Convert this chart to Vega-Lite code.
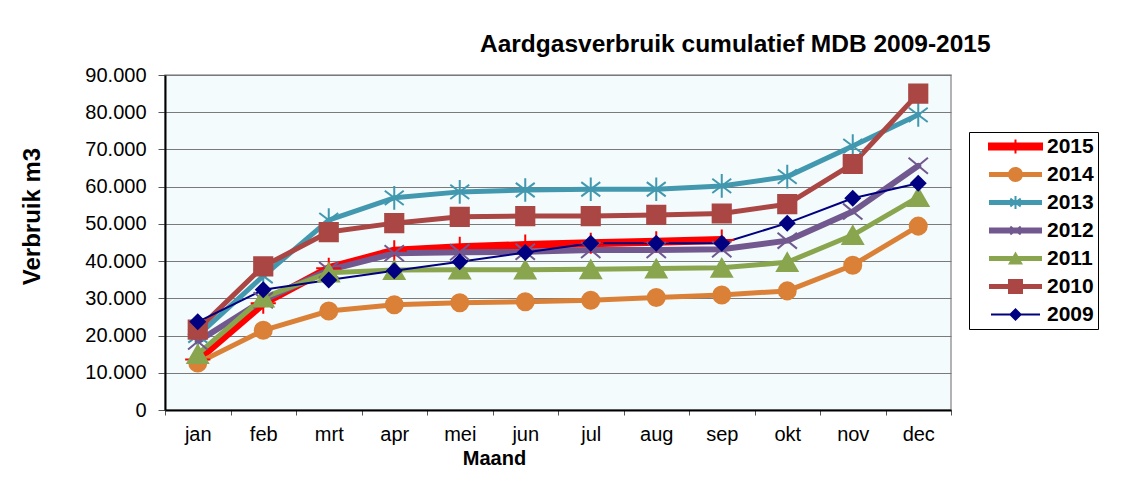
{
  "$schema": "https://vega.github.io/schema/vega-lite/v6.json",
  "autosize": "none",
  "width": 786,
  "height": 335,
  "padding": {"left": 165, "top": 75, "right": 174, "bottom": 75},
  "background": "white",
  "view": {"fill": "#F3FBFC", "stroke": "#9a9a9a", "strokeWidth": 1.5},
  "config": {
    "font": "Liberation Sans",
    "axis": {"labelFont": "Liberation Sans", "titleFont": "Liberation Sans", "labelColor": "black", "titleColor": "black"}
  },
  "title": {
    "text": "Aardgasverbruik  cumulatief MDB 2009-2015",
    "anchor": "start",
    "frame": "group",
    "dx": 315,
    "dy": 33,
    "offset": 22,
    "baseline": "alphabetic",
    "font": "Liberation Sans",
    "fontSize": 24.5,
    "fontWeight": "bold",
    "color": "black"
  },
  "data": {
    "values": [
      {"m": "jan", "year": "2015", "v": 13600}, {"m": "feb", "year": "2015", "v": 28700}, {"m": "mrt", "year": "2015", "v": 38100},
      {"m": "apr", "year": "2015", "v": 42800}, {"m": "mei", "year": "2015", "v": 43700}, {"m": "jun", "year": "2015", "v": 44300},
      {"m": "jul", "year": "2015", "v": 44800}, {"m": "aug", "year": "2015", "v": 45200}, {"m": "sep", "year": "2015", "v": 45700},
      {"m": "jan", "year": "2014", "v": 12600}, {"m": "feb", "year": "2014", "v": 21400}, {"m": "mrt", "year": "2014", "v": 26600},
      {"m": "apr", "year": "2014", "v": 28300}, {"m": "mei", "year": "2014", "v": 28800}, {"m": "jun", "year": "2014", "v": 29100},
      {"m": "jul", "year": "2014", "v": 29500}, {"m": "aug", "year": "2014", "v": 30200}, {"m": "sep", "year": "2014", "v": 30900},
      {"m": "okt", "year": "2014", "v": 32000}, {"m": "nov", "year": "2014", "v": 38900}, {"m": "dec", "year": "2014", "v": 49400},
      {"m": "jan", "year": "2013", "v": 20000}, {"m": "feb", "year": "2013", "v": 36000}, {"m": "mrt", "year": "2013", "v": 51000},
      {"m": "apr", "year": "2013", "v": 57000}, {"m": "mei", "year": "2013", "v": 58600}, {"m": "jun", "year": "2013", "v": 59100},
      {"m": "jul", "year": "2013", "v": 59300}, {"m": "aug", "year": "2013", "v": 59300}, {"m": "sep", "year": "2013", "v": 60200},
      {"m": "okt", "year": "2013", "v": 62700}, {"m": "nov", "year": "2013", "v": 70900}, {"m": "dec", "year": "2013", "v": 79300},
      {"m": "jan", "year": "2012", "v": 18400}, {"m": "feb", "year": "2012", "v": 29500}, {"m": "mrt", "year": "2012", "v": 37600},
      {"m": "apr", "year": "2012", "v": 42100}, {"m": "mei", "year": "2012", "v": 42400}, {"m": "jun", "year": "2012", "v": 42500},
      {"m": "jul", "year": "2012", "v": 43000}, {"m": "aug", "year": "2012", "v": 43000}, {"m": "sep", "year": "2012", "v": 43200},
      {"m": "okt", "year": "2012", "v": 45500}, {"m": "nov", "year": "2012", "v": 53300}, {"m": "dec", "year": "2012", "v": 65600},
      {"m": "jan", "year": "2011", "v": 15000}, {"m": "feb", "year": "2011", "v": 30200}, {"m": "mrt", "year": "2011", "v": 36900},
      {"m": "apr", "year": "2011", "v": 37600}, {"m": "mei", "year": "2011", "v": 37700}, {"m": "jun", "year": "2011", "v": 37700},
      {"m": "jul", "year": "2011", "v": 37800}, {"m": "aug", "year": "2011", "v": 38000}, {"m": "sep", "year": "2011", "v": 38200},
      {"m": "okt", "year": "2011", "v": 39700}, {"m": "nov", "year": "2011", "v": 47000}, {"m": "dec", "year": "2011", "v": 57200},
      {"m": "jan", "year": "2010", "v": 21600}, {"m": "feb", "year": "2010", "v": 38600}, {"m": "mrt", "year": "2010", "v": 47800},
      {"m": "apr", "year": "2010", "v": 50200}, {"m": "mei", "year": "2010", "v": 51900}, {"m": "jun", "year": "2010", "v": 52100},
      {"m": "jul", "year": "2010", "v": 52100}, {"m": "aug", "year": "2010", "v": 52400}, {"m": "sep", "year": "2010", "v": 52800},
      {"m": "okt", "year": "2010", "v": 55300}, {"m": "nov", "year": "2010", "v": 66100}, {"m": "dec", "year": "2010", "v": 85000},
      {"m": "jan", "year": "2009", "v": 23700}, {"m": "feb", "year": "2009", "v": 32300}, {"m": "mrt", "year": "2009", "v": 34900},
      {"m": "apr", "year": "2009", "v": 37400}, {"m": "mei", "year": "2009", "v": 39800}, {"m": "jun", "year": "2009", "v": 42300},
      {"m": "jul", "year": "2009", "v": 44800}, {"m": "aug", "year": "2009", "v": 44800}, {"m": "sep", "year": "2009", "v": 44800},
      {"m": "okt", "year": "2009", "v": 50200}, {"m": "nov", "year": "2009", "v": 56900}, {"m": "dec", "year": "2009", "v": 60900}
    ]
  },
  "encoding": {
    "x": {
      "field": "m", "type": "ordinal",
      "sort": ["jan","feb","mrt","apr","mei","jun","jul","aug","sep","okt","nov","dec"],
      "scale": {"type": "band", "paddingInner": 0, "paddingOuter": 0},
      "axis": {
        "title": "Maand", "titleFontSize": 20, "titleFontWeight": "bold",
        "titleX": 329, "titleY": 48, "titleBaseline": "middle", "titleAlign": "center",
        "labelFontSize": 20, "labelAngle": 0, "labelPadding": 9,
        "tickSize": 5, "tickBand": "extent", "tickColor": "#555",
        "domainColor": "black", "domainWidth": 2, "grid": false
      }
    },
    "y": {
      "field": "v", "type": "quantitative",
      "scale": {"domain": [0, 90000], "nice": false},
      "axis": {
        "title": "Verbruik m3", "titleFontSize": 24, "titleFontWeight": "bold",
        "titleX": -133, "titleY": 141, "titleBaseline": "middle", "titleAlign": "center", "titleAngle": -90,
        "values": [0,10000,20000,30000,40000,50000,60000,70000,80000,90000],
        "labelExpr": "replace(format(datum.value, ','), ',', '.')",
        "labelFontSize": 20, "labelPadding": 12,
        "tickSize": 7, "tickColor": "#555",
        "domainColor": "black", "domainWidth": 2,
        "grid": true, "gridColor": "#7a7a7a", "gridWidth": 1
      }
    }
  },
  "layer": [
    {
      "mark": {"type": "line", "strokeJoin": "round", "strokeCap": "round"},
      "encoding": {
        "stroke": {
          "field": "year", "type": "nominal", "legend": null,
          "scale": {"domain": ["2015","2014","2013","2012","2011","2010","2009"],
                    "range": ["#FF0000","#DA8137","#4198AF","#71588F","#89A54E","#AA4643","#000080"]}
        },
        "strokeWidth": {
          "field": "year", "type": "nominal", "legend": null,
          "scale": {"type": "ordinal", "domain": ["2015","2014","2013","2012","2011","2010","2009"],
                    "range": [8, 5, 5, 6, 5, 5, 2]}
        }
      }
    },
    {
      "mark": {"type": "point", "filled": true, "strokeWidth": 2, "opacity": 1},
      "encoding": {
        "stroke": {"field": "year", "type": "nominal", "legend": null},
        "fill": {
          "field": "year", "type": "nominal", "legend": null,
          "scale": {"domain": ["2015","2014","2013","2012","2011","2010","2009"],
                    "range": ["transparent","#DA8137","transparent","transparent","#89A54E","#AA4643","#000080"]}
        },
        "shape": {
          "field": "year", "type": "nominal", "legend": null,
          "scale": {"domain": ["2015","2014","2013","2012","2011","2010","2009"],
                    "range": ["M0,-1V1M-1.2,0H1.2", "circle", "M0,-1V1M-0.8,-0.6L0.8,0.6M-0.8,0.6L0.8,-0.6", "M-0.85,-0.7L0.85,0.7M-0.85,0.7L0.85,-0.7", "triangle-up", "square", "diamond"]}
        },
        "size": {
          "field": "year", "type": "nominal", "legend": null,
          "scale": {"type": "ordinal", "domain": ["2015","2014","2013","2012","2011","2010","2009"],
                    "range": [440, 290, 560, 520, 420, 330, 200]}
        }
      }
    },
    {
      "transform": [{"filter": "false"}],
      "mark": {"type": "point", "filled": true, "size": 400, "strokeWidth": 0, "opacity": 1},
      "encoding": {
        "fill": {
          "field": "year", "type": "nominal",
          "scale": {"domain": ["2015","2014","2013","2012","2011","2010","2009"],
                    "range": ["#FF0000","#DA8137","#4198AF","#71588F","#89A54E","#AA4643","#000080"]}
        },
        "shape": {
          "field": "year", "type": "nominal",
          "scale": {"domain": ["2015","2014","2013","2012","2011","2010","2009"],
                    "range": [
                      "M-2.75,-0.4H2.75V0.4H-2.75Z M-0.1,-0.7H0.1V0.7H-0.1Z",
                      "M-2.65,-0.25H2.65V0.25H-2.65Z M-0.75,0A0.75,0.75 0 1,1 0.75,0A0.75,0.75 0 1,1 -0.75,0Z",
                      "M-2.65,-0.25H2.65V0.25H-2.65Z M-0.1,-0.65H0.1V0.65H-0.1Z M-0.46,-0.47L0.58,0.31L0.46,0.47L-0.58,-0.31Z M-0.58,0.31L0.46,-0.47L0.58,-0.31L-0.46,0.47Z",
                      "M-2.65,-0.3H2.65V0.3H-2.65Z M-0.46,-0.47L0.58,0.31L0.46,0.47L-0.58,-0.31Z M-0.58,0.31L0.46,-0.47L0.58,-0.31L-0.46,0.47Z",
                      "M-2.65,-0.25H2.65V0.25H-2.65Z M0,-0.7L0.75,0.6H-0.75Z",
                      "M-2.65,-0.25H2.65V0.25H-2.65Z M-0.75,-0.75H0.75V0.75H-0.75Z",
                      "M-2.45,-0.1H2.45V0.1H-2.45Z M0,-0.65L0.65,0L0,0.65L-0.65,0Z"
                    ]},
          "legend": {
            "orient": "none", "legendX": 804, "legendY": 57,
            "title": null, "padding": 4,
            "strokeColor": "black", "fillColor": "white",
            "symbolSize": 400, "symbolStrokeWidth": 0,
            "symbolOffset": 32, "labelOffset": 21,
            "labelFont": "Liberation Sans", "labelFontSize": 21, "labelFontWeight": "bold", "labelColor": "black",
            "rowPadding": 6,
            "labelExpr": "datum.label + '   '"
          }
        }
      }
    }
  ],
  "resolve": {
    "scale": {"fill": "independent", "shape": "independent", "size": "independent"},
    "legend": {"fill": "independent", "shape": "independent"}
  }
}
